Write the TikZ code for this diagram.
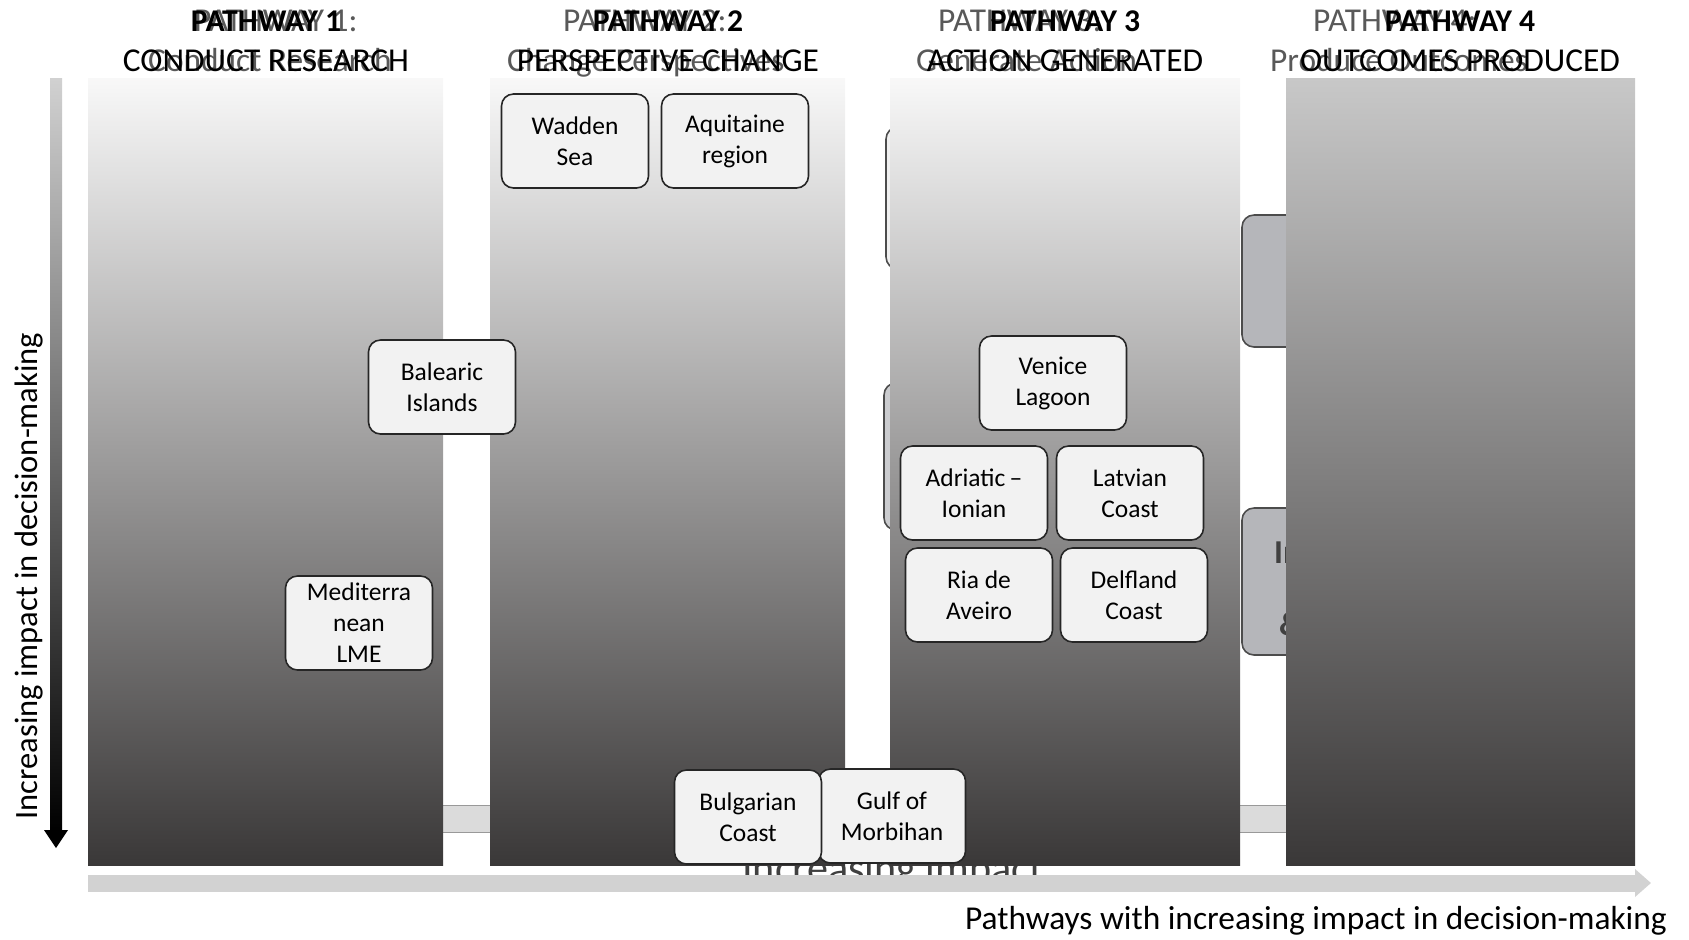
\documentclass[tikz,border=0pt]{standalone}
\usepackage{fontspec}
\setmainfont{Carlito}
\usepackage{tikz}
\usetikzlibrary{arrows.meta}

\definecolor{boxfill}{RGB}{242,242,242}
\definecolor{coltop}{RGB}{248,248,248}
\definecolor{colmid}{RGB}{178,178,178}
\definecolor{colbot}{RGB}{58,56,56}
\definecolor{darktop}{RGB}{200,200,200}
\definecolor{darkmid}{RGB}{140,138,138}
\definecolor{hidfill}{RGB}{181,182,186}
\definecolor{axisgray}{RGB}{210,210,210}

\tikzset{
	site/.style={shape=rectangle, rounded corners=2.4mm, draw=black!85, line width=0.9pt, fill=boxfill, minimum width=29.4mm, minimum height=18.8mm, align=center, font=\fontsize{14.5}{17.6}\selectfont},
	hidden/.style={rounded corners=2.4mm, draw=black!70, line width=0.9pt, fill=hidfill},
	pathcol/.style={top color=coltop, middle color=colmid, bottom color=colbot},
	pathdark/.style={top color=darktop, middle color=darkmid, bottom color=colbot},
	ghost/.style={anchor=base west, text=black!65, font=\fontsize{19}{22}\selectfont},
	headtop/.style={anchor=base, font=\fontsize{18}{22}\selectfont\bfseries},
	headsub/.style={anchor=base, font=\fontsize{19}{22}\selectfont},
}

\begin{document}
\begin{tikzpicture}[x=0.2mm, y=-0.2mm]
	\useasboundingbox (0,0) rectangle (1689,939);
	
	\node[anchor=base, font=\fontsize{24}{28}\selectfont, text=black!75] (hghost) at (893,882) {Increasing impact};
	\draw[draw=black!40, fill=black!14] (300,805) rectangle (1400,832);
	
	\draw[hidden, fill=black!6] (886,127) rectangle (1000,269);
	\draw[hidden, fill=hidfill!70] (884,383) rectangle (1000,530);
	\draw[hidden] (1242,215) rectangle (1420,347);
	\draw[hidden] (1242,508) rectangle (1420,655);
	\node[anchor=west, font=\fontsize{19}{22}\selectfont\bfseries, text=black!75] (hidin) at (1268,553) {In};
	\node[anchor=west, font=\fontsize{19}{22}\selectfont\bfseries, text=black!75] (hidamp) at (1273,624) {\&};
	
	\shade[pathcol] (88,78) rectangle (443,865);
	\shade[pathcol] (490,78) rectangle (845,865);
	\shade[pathcol] (890,78) rectangle (1240,865);
	\shade[pathdark] (1286,78) rectangle (1635,865);
	
	\node[ghost] (g1a) at (188,31) {PATHWAY 1:};
	\node[ghost] (g1b) at (142,71) {Conduct Research};
	\node[ghost] (g2a) at (557,31) {PATHWAY 2:};
	\node[ghost] (g2b) at (501,71) {Change Perspectives};
	\node[ghost] (g3a) at (932,31) {PATHWAY 3:};
	\node[ghost] (g3b) at (910,71) {Generate Action};
	\node[ghost] (g4a) at (1307,31) {PATHWAY 4:};
	\node[ghost] (g4b) at (1264,71) {Produce Outcomes};
	
	\node[headtop] (h1a) at (266,31) {PATHWAY 1};
	\node[headsub] (h1b) at (266,71) {CONDUCT RESEARCH};
	\node[headtop] (h2a) at (668,31) {PATHWAY 2};
	\node[headsub] (h2b) at (668,71) {PERSPECTIVE CHANGE};
	\node[headtop] (h3a) at (1065,31) {PATHWAY 3};
	\node[headsub] (h3b) at (1065,71) {ACTION GENERATED};
	\node[headtop] (h4a) at (1460,31) {PATHWAY 4};
	\node[headsub] (h4b) at (1460,71) {OUTCOMES PRODUCED};
	
	\node[site] (wadden) at (575,141) {Wadden\\Sea};
	\node[site] (aquitaine) at (735,141) {Aquitaine\\region};
	\node[site] (balearic) at (442,387) {Balearic\\Islands};
	\node[site] (medit) at (359,623) {Mediterra\\nean\\LME};
	\node[site] (venice) at (1053,383) {Venice\\Lagoon};
	\node[site] (adriatic) at (974,493) {Adriatic\,--\\Ionian};
	\node[site] (latvian) at (1130,493) {Latvian\\Coast};
	\node[site] (ria) at (979,595) {Ria de\\Aveiro};
	\node[site] (delfland) at (1134,595) {Delfland\\Coast};
	\node[site] (gulf) at (892,816) {Gulf of\\Morbihan};
	\node[site] (bulgarian) at (748,817) {Bulgarian\\Coast};
	
	\shade[top color=black!18, bottom color=black] (50,78) rectangle (62,832);
	\fill[black] (44,830) -- (68,830) -- (56,848) -- cycle;
	\node[rotate=90, font=\fontsize{18.5}{22}\selectfont] (vlabel) at (29,576) {Increasing impact in decision-making};
	
	\coordinate (hstart) at (88,883);
	\coordinate (hend) at (1651,883);
	\draw[line width=3.4mm, axisgray, -{Triangle[width=5.4mm, length=3.2mm]}] (hstart) -- (hend);
	\node[anchor=base east, font=\fontsize{19}{22}\selectfont] (hlabel) at (1673,929) {Pathways with increasing impact in decision-making};
	
\end{tikzpicture}
\end{document}
